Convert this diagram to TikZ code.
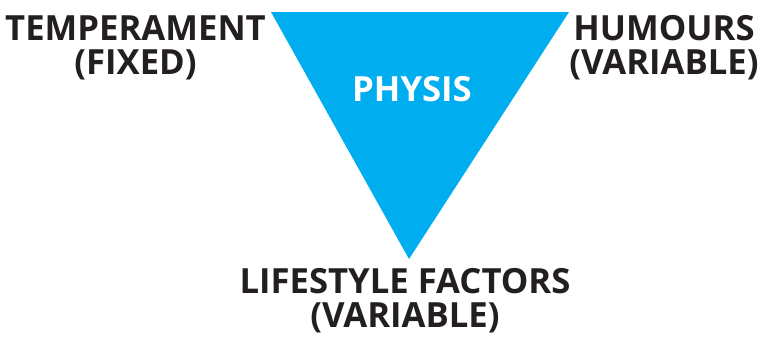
\documentclass[tikz,border=0pt]{standalone}
\usepackage{fontspec}
\setmainfont{Open Sans}
\definecolor{physisblue}{RGB}{0,174,239}
\definecolor{inkblack}{RGB}{35,31,32}
\tikzset{
  lbl/.style={inner sep=0pt, align=center, text=inkblack,
    font=\fontsize{26}{25.5}\selectfont\bfseries},
}

\begin{document}
\begin{tikzpicture}[x=0.75pt,y=0.75pt,yscale=-1,xscale=1]
        \useasboundingbox (0,0) rectangle (759,336);

        %Shape: Triangle
        \coordinate (tl) at (271,12);
        \coordinate (tr) at (569,12);
        \coordinate (bt) at (409,259);
        \fill [physisblue] (tl) -- (tr) -- (bt) -- cycle ;

        % Text Node
        \node [lbl, text=white] (physis) at (412,89) {PHYSIS};
        % Text Node
        \node [lbl] (temperament) at (135.5,47.5) {TEMPERAMENT\\(FIXED)};
        % Text Node
        \node [lbl] (humours) at (664,47.5) {HUMOURS\\(VARIABLE)};
        % Text Node
        \node [lbl] (lifestyle) at (405,301) {LIFESTYLE FACTORS\\(VARIABLE)};
    \end{tikzpicture}
\end{document}
